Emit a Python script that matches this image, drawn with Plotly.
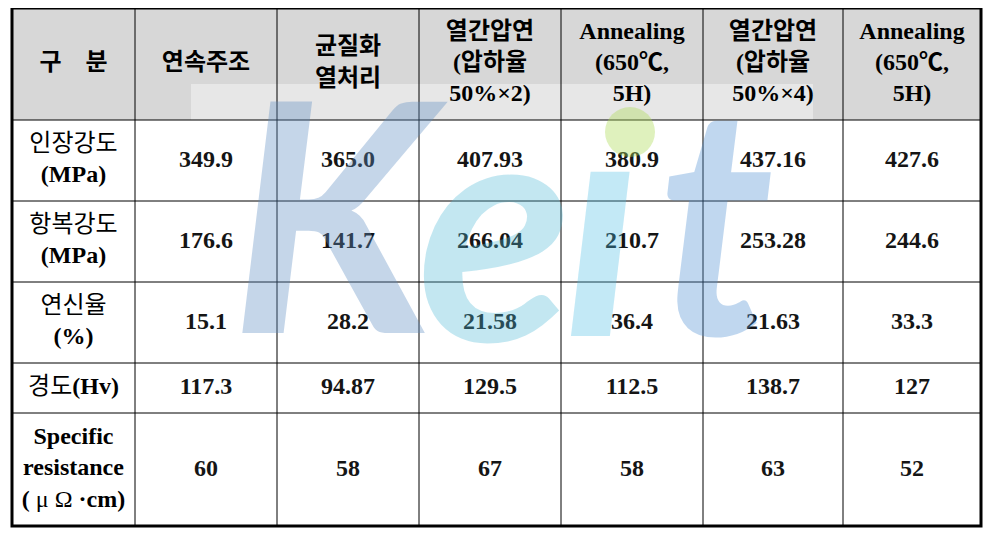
import plotly.graph_objects as go

# 표 데이터
col_headers = ["구\u00a0\u00a0\u00a0\u00a0분", "연속주조", "균질화<br>열처리",
               "열간압연<br>(압하율<br>50%×2)", "Annealing<br>(650℃,<br>5H)",
               "열간압연<br>(압하율<br>50%×4)", "Annealing<br>(650℃,<br>5H)"]
row_labels = ["인장강도<br><b>(MPa)</b>", "항복강도<br><b>(MPa)</b>", "연신율<br><b>(%)</b>",
              "경도<b>(Hv)</b>",
              "<b>Specific<br>resistance<br>(</b>\u00a0\u03bc\u00a0\u03a9\u00a0<b>\u00b7cm)</b>"]
tensile = ["349.9", "365.0", "407.93", "380.9", "437.16", "427.6"]
yield_strength = ["176.6", "141.7", "266.04", "210.7", "253.28", "244.6"]
elongation = ["15.1", "28.2", "21.58", "36.4", "21.63", "33.3"]
hardness = ["117.3", "94.87", "129.5", "112.5", "138.7", "127"]
resistance = ["60", "58", "67", "58", "63", "52"]

rows = [tensile, yield_strength, elongation, hardness, resistance]

# 격자 (페이지 픽셀 좌표, body 여백 8px 포함)
col_edges = [12, 135, 277, 419, 561, 703, 843, 981]
row_edges = [8, 120, 201, 282, 363, 413, 526]
col_mid = [(a + b) / 2 for a, b in zip(col_edges[:-1], col_edges[1:])]
row_mid = [(a + b) / 2 for a, b in zip(row_edges[:-1], row_edges[1:])]

FONT = "Liberation Serif, Noto Sans CJK KR, serif"
FS = 24

fig = go.Figure()

# 헤더
fig.add_trace(go.Scatter(
    x=col_mid, y=[row_mid[0]] * len(col_mid), text=col_headers,
    mode="text", textposition="middle center",
    textfont=dict(family=FONT, size=FS, color="black", weight="bold"),
    hoverinfo="skip", showlegend=False
))

# 행 제목
fig.add_trace(go.Scatter(
    x=[col_mid[0]] * len(row_labels), y=row_mid[1:], text=row_labels,
    mode="text", textposition="middle center",
    textfont=dict(family=FONT, size=FS, color="black"),
    hoverinfo="skip", showlegend=False
))

# 값
for i, vals in enumerate(rows):
    fig.add_trace(go.Scatter(
        x=col_mid[1:], y=[row_mid[i + 1]] * len(vals), text=vals,
        mode="text", textposition="middle center",
        textfont=dict(family=FONT, size=FS, color="#151515", weight="bold"),
        hoverinfo="skip", showlegend=False
    ))

shapes = []
shapes.append(dict(type="rect", x0=col_edges[0], x1=col_edges[-1], y0=row_edges[0], y1=row_edges[1],
                   fillcolor="#d7d7d7", line=dict(width=0), layer="below"))
shapes.append(dict(type="rect", x0=191, x1=813, y0=84, y1=row_edges[1],
                   fillcolor="rgba(255,255,255,0.4)", line=dict(width=0), layer="below"))
for x in col_edges[1:-1]:
    shapes.append(dict(type="line", x0=x, x1=x, y0=row_edges[0], y1=row_edges[-1],
                       line=dict(color="black", width=1)))
for y in row_edges[1:-1]:
    shapes.append(dict(type="line", x0=col_edges[0], x1=col_edges[-1], y0=y, y1=y,
                       line=dict(color="black", width=1)))
shapes.append(dict(type="rect", x0=col_edges[0], x1=col_edges[-1], y0=row_edges[0], y1=row_edges[-1],
                   line=dict(color="black", width=3)))
# 워터마크 i 점
shapes.append(dict(type="circle", x0=605, x1=655, y0=107, y1=157,
                   fillcolor="rgba(175,220,90,0.4)", line=dict(width=0)))

# 워터마크 Keit
wm_font = dict(family="Lato, Open Sans, sans-serif", size=320, weight="bold", style="italic")
wm = [("K", 340, 209, "rgba(95,140,195,0.36)"),
      ("e", 495, 217, "rgba(80,185,215,0.34)"),
      ("\u0131", 602, 212, "rgba(80,190,230,0.34)"),
      ("t", 715, 211, "rgba(80,145,210,0.36)")]
annotations = [dict(x=x, y=y, text=t, showarrow=False, xref="x", yref="y",
                    font=dict(color=c, **wm_font))
               for t, x, y, c in wm]

fig.update_layout(
    width=991, height=535,
    margin=dict(l=0, r=0, t=0, b=0),
    paper_bgcolor="white", plot_bgcolor="white",
    xaxis=dict(range=[8, 999], visible=False, fixedrange=True),
    yaxis=dict(range=[543, 8], visible=False, fixedrange=True),
    shapes=shapes, annotations=annotations,
)

fig.write_html("out.html")
